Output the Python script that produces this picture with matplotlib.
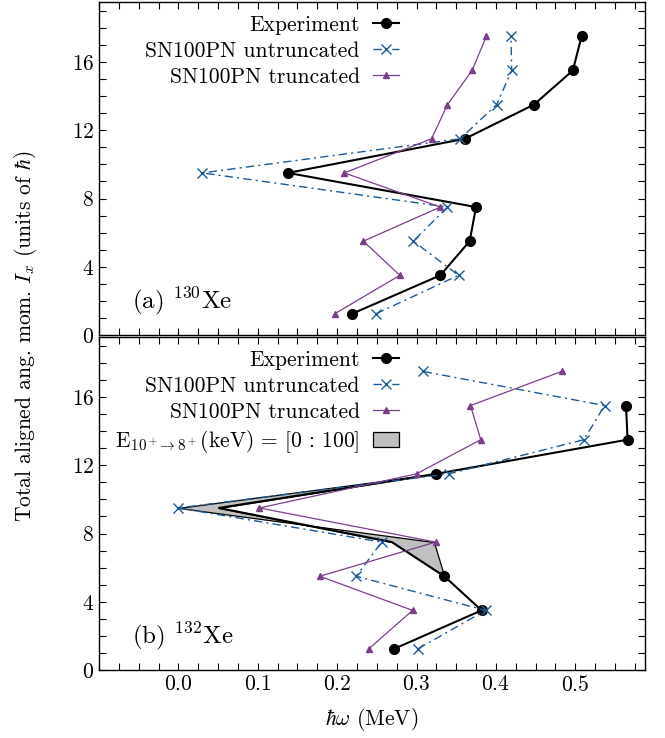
import matplotlib
matplotlib.use("Agg")
import matplotlib.pyplot as plt
from matplotlib.lines import Line2D
from matplotlib.ticker import MultipleLocator

plt.rcParams["font.family"] = "serif"
plt.rcParams["font.serif"] = ["cmr10", "DejaVu Serif"]
plt.rcParams["mathtext.fontset"] = "cm"
plt.rcParams["axes.formatter.use_mathtext"] = True
plt.rcParams["axes.unicode_minus"] = False

BLUE = "#1b5a97"
PURPLE = "#7a3f8b"

# aligned angular momentum (units of hbar)
ix = [1.25, 3.5, 5.5, 7.5, 9.5, 11.5, 13.5, 15.5, 17.5]

# (a) 130Xe, hbar*omega in MeV
xe130_exp = [0.219, 0.330, 0.367, 0.375, 0.138, 0.361, 0.448, 0.497, 0.508]
xe130_untr = [0.249, 0.353, 0.296, 0.339, 0.030, 0.355, 0.401, 0.420, 0.419]
xe130_tr = [0.197, 0.279, 0.233, 0.330, 0.209, 0.319, 0.339, 0.370, 0.388]

# (b) 132Xe
ix_b_exp = [1.25, 3.5, 5.5, 7.5, 9.5, 11.5, 13.5, 15.5]
xe132_exp = [0.272, 0.382, 0.335, 0.269, 0.051, 0.325, 0.566, 0.564]
xe132_exp_marked = [True, True, True, False, False, True, True, True]
xe132_untr = [0.302, 0.387, 0.224, 0.256, 0.000, 0.341, 0.511, 0.537, 0.308]
xe132_tr = [0.240, 0.295, 0.178, 0.324, 0.102, 0.300, 0.381, 0.368, 0.483]

# band for E(10+ -> 8+) = 0..100 keV
band_ix = [5.5, 7.5, 9.5, 11.5]
band_lo = [0.335, 0.269, 0.051, 0.325]
band_hi = [0.335, 0.322, 0.000, 0.325]

FS = 15.5

fig = plt.figure(figsize=(6.65, 7.38), dpi=100)
ax_a = fig.add_axes([0.149, 0.546, 0.821, 0.451])
ax_b = fig.add_axes([0.149, 0.092, 0.821, 0.451])


def style(ax):
    ax.set_xlim(-0.1, 0.588)
    ax.set_ylim(0, 19.5)
    ax.set_xticks([0, 0.1, 0.2, 0.3, 0.4, 0.5])
    ax.xaxis.set_minor_locator(MultipleLocator(0.025))
    ax.set_yticks([0, 4, 8, 12, 16])
    ax.yaxis.set_minor_locator(MultipleLocator(1))
    ax.tick_params(which="both", direction="in", top=True, right=True, labelsize=FS)
    ax.tick_params(which="both", length=5, width=0.8)
    for s in ax.spines.values():
        s.set_linewidth(1.0)


leg_kw = dict(loc="upper right", bbox_to_anchor=(0.58, 1.012), markerfirst=False,
              frameon=False, fontsize=FS, handlelength=1.2, handletextpad=0.6,
              labelspacing=0.3, borderpad=0.3)

# panel (a)
ax = ax_a
ax.plot(xe130_exp, ix, "-o", color="black", lw=1.5, ms=7, label="Experiment")
ax.plot(xe130_untr, ix, "-x", color=BLUE, lw=1.0, ms=7, mew=1.0,
        dashes=[6, 3, 1.5, 3], label="SN100PN untruncated")
ax.plot(xe130_tr, ix, "-^", color=PURPLE, lw=0.9, ms=5, label="SN100PN truncated")
style(ax)
ax.tick_params(labelbottom=False)
ax.legend(**leg_kw)
ax.text(0.06, 0.08, r"(a) $^{130}$Xe", transform=ax.transAxes, fontsize=18)

# panel (b)
ax = ax_b
ax.fill_betweenx(band_ix, band_lo, band_hi, facecolor="#c0c0c0", edgecolor="black",
                 lw=0.9, label=r"E$_{10^+\!\rightarrow 8^+}$(keV) = [0 : 100]")
ax.plot(xe132_exp, ix_b_exp, "-", color="black", lw=1.5)
ax.plot([x for x, m in zip(xe132_exp, xe132_exp_marked) if m],
        [y for y, m in zip(ix_b_exp, xe132_exp_marked) if m],
        "o", color="black", ms=7)
ax.plot(xe132_untr, ix, "-x", color=BLUE, lw=1.0, ms=7, mew=1.0,
        dashes=[6, 3, 1.5, 3], label="SN100PN untruncated")
ax.plot(xe132_tr, ix, "-^", color=PURPLE, lw=0.9, ms=5, label="SN100PN truncated")
style(ax)

h, l = ax.get_legend_handles_labels()
exp_handle = Line2D([], [], color="black", lw=1.5, marker="o", ms=7)
ax.legend([exp_handle, h[1], h[2], h[0]], ["Experiment", l[1], l[2], l[0]], **leg_kw)
ax.text(0.06, 0.08, r"(b) $^{132}$Xe", transform=ax.transAxes, fontsize=18)
ax.set_xlabel(r"$\hbar\omega$ (MeV)", fontsize=FS, labelpad=8)

fig.text(0.038, 0.544, r"Total aligned ang. mom. $I_x$ (units of $\hbar$)",
         rotation=90, ha="center", va="center", fontsize=FS)

fig.savefig("out.png", dpi=100)
